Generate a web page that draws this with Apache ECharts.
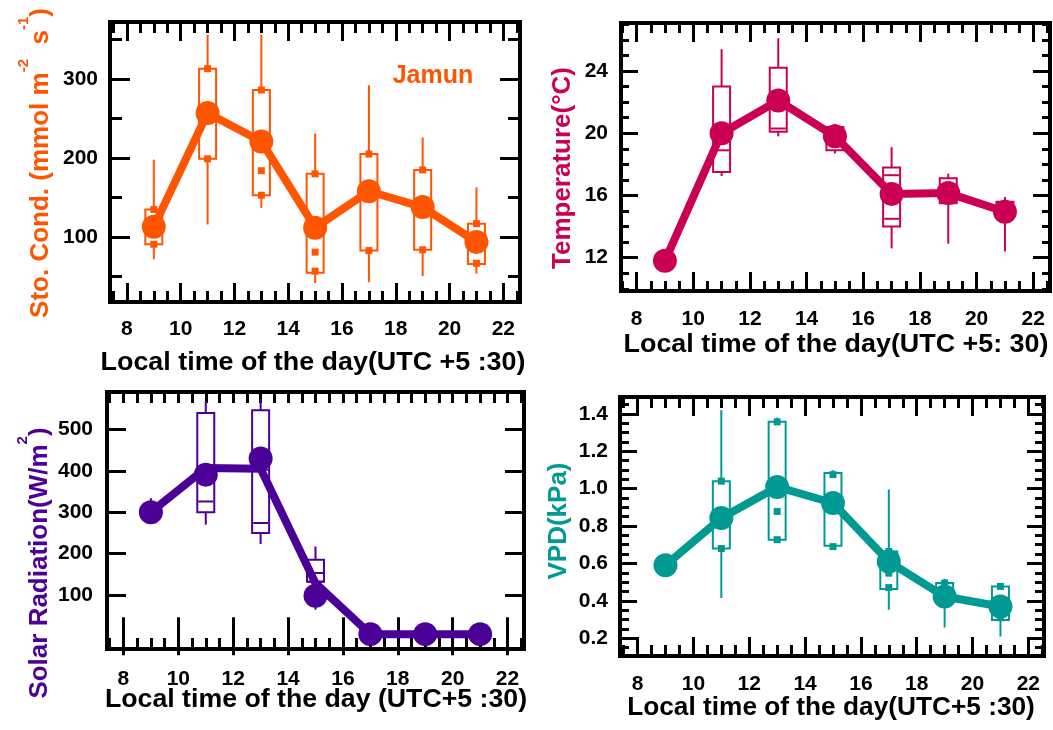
<!DOCTYPE html>
<html><head><meta charset="utf-8">
<script src="https://cdn.jsdelivr.net/npm/echarts@6/dist/echarts.min.js"></script>
<style>html,body{margin:0;padding:0;background:#fff}#c{width:1053px;height:730px}</style>
</head><body><div id="c"></div>
<script>
// ---------- shared axis data ----------
const hours = [9, 11, 13, 15, 17, 19, 21];
const xMajorTicks = [8, 10, 12, 14, 16, 18, 20, 22];
const xMinorTicks = [7.5, 8, 8.5, 9, 9.5, 10, 10.5, 11, 11.5, 12, 12.5, 13, 13.5, 14, 14.5, 15, 15.5, 16, 16.5, 17, 17.5, 18, 18.5, 19, 19.5, 20, 20.5, 21, 21.5, 22, 22.5];

// ---------- Panel 1: stomatal conductance ----------
const condMean = [113, 257, 221, 112, 158, 138, 94];
const condBoxHours = [9, 11, 13, 15, 17, 19, 21];
const condWhiskerLow = [72, 116, 137, 42, 43, 51, 54];
const condBoxLow = [91, 199, 153, 55, 83, 84, 66];
const condBoxHigh = [135, 313, 286, 180, 205, 185, 117];
const condWhiskerHigh = [198, 356, 356, 231, 292, 226, 163];
const condMarkHours = [9, 9, 11, 11, 13, 13, 13, 15, 15, 15, 17, 17, 19, 19, 21, 21];
const condMarkValues = [135, 91, 313, 199, 286, 184, 153, 180, 81, 57, 205, 83, 185, 84, 117, 67];
const condYTicks = [100, 200, 300];
const condYMinorTicks = [50, 100, 150, 200, 250, 300, 350];

// ---------- Panel 2: temperature ----------
const tempMean = [11.8, 20.0, 22.1, 19.8, 16.1, 16.15, 14.95];
const tempBoxHours = [11, 13, 15, 17, 19, 21];
const tempWhiskerLow = [17.25, 19.8, 18.7, 12.6, 12.9, 12.4];
const tempBoxLow = [17.5, 20.1, 18.9, 14.0, 15.5, 14.6];
const tempBoxHigh = [23.0, 24.2, 20.4, 17.8, 17.1, 15.6];
const tempWhiskerHigh = [25.4, 26.1, 20.6, 19.1, 17.4, 15.9];
const tempDashHours = [11, 13, 17, 17];
const tempDashValues = [18.9, 20.3, 17.3, 14.5];
const tempYTicks = [12, 16, 20, 24];
const tempYMinorTicks = [10, 11, 12, 13, 14, 15, 16, 17, 18, 19, 20, 21, 22, 23, 24, 25, 26, 27];

// ---------- Panel 3: solar radiation ----------
const solarMean = [300, 391, 430, 98, 5, 5, 5];
const solarMedian = [300, 407, 405, 128, 5, 5, 5];
const solarBoxHours = [9, 11, 13, 15];
const solarWhiskerLow = [285, 270, 223, 64];
const solarBoxLow = [295, 300, 250, 132];
const solarBoxHigh = [305, 540, 547, 185];
const solarWhiskerHigh = [334, 569, 574, 217];
const solarDashHours = [11, 11, 13, 13, 15, 15];
const solarDashValues = [403, 326, 403, 274, 153, 132];
const solarYTicks = [100, 200, 300, 400, 500];

// ---------- Panel 4: VPD ----------
const vpdMean = [0.59, 0.843, 1.009, 0.923, 0.61, 0.423, 0.37];
const vpdBoxHours = [11, 13, 15, 17, 19, 21];
const vpdWhiskerLow = [0.415, 0.727, 0.69, 0.352, 0.257, 0.209];
const vpdBoxLow = [0.68, 0.727, 0.695, 0.463, 0.388, 0.298];
const vpdBoxHigh = [1.04, 1.357, 1.084, 0.664, 0.495, 0.477];
const vpdWhiskerHigh = [1.42, 1.38, 1.098, 0.995, 0.518, 0.491];
const vpdMarkHours = [11, 11, 13, 13, 13, 15, 15, 17, 17, 17, 19, 21, 21];
const vpdMarkValues = [1.04, 0.68, 1.357, 0.878, 0.727, 1.075, 0.69, 0.664, 0.548, 0.471, 0.495, 0.477, 0.31];
const vpdYTicks = [0.2, 0.4, 0.6, 0.8, 1.0, 1.2, 1.4];
const vpdYMinorTicks = [0.15, 0.2, 0.25, 0.3, 0.35, 0.4, 0.45, 0.5, 0.55, 0.6, 0.65, 0.7, 0.75, 0.8, 0.85, 0.9, 0.95, 1.0, 1.05, 1.1, 1.15, 1.2, 1.25, 1.3, 1.35, 1.4, 1.45];

// ---------- styling ----------
const FONT = "'Liberation Sans', Arial, sans-serif";
const C1 = '#FF5500', C2 = '#CC0052', C3 = '#4B0097', C4 = '#009A93';

const grids = [
  {left: 110, top: 22, width: 410, height: 280},
  {left: 621, top: 23, width: 429, height: 268},
  {left: 107, top: 392, width: 417, height: 257},
  {left: 620, top: 397, width: 424, height: 259}
].map(g => Object.assign(g, {show: true, borderColor: '#000', borderWidth: 4, backgroundColor: 'transparent'}));

const xAxes = [], yAxes = [];
function tick(len, vals) {
  return {show: true, inside: true, length: len, customValues: vals, lineStyle: {color: '#000', width: 3}};
}
function addAxes(g, c) {
  const bx = {gridIndex: g, type: 'value', min: c.xMin, max: c.xMax, splitLine: {show: false}, axisLine: {show: false}};
  const by = {gridIndex: g, type: 'value', min: c.yMin, max: c.yMax, splitLine: {show: false}, axisLine: {show: false}};
  const xi = xAxes.length, yi = yAxes.length;
  xAxes.push(Object.assign({}, bx, {position: 'bottom', axisTick: tick(c.xLen, xMajorTicks),
    axisLabel: {customValues: xMajorTicks, margin: c.xMargin, fontSize: 21, fontWeight: 'bold', fontFamily: FONT, color: '#000'}}));
  xAxes.push(Object.assign({}, bx, {position: 'top', axisTick: tick(c.xLen, xMajorTicks), axisLabel: {show: false}}));
  xAxes.push(Object.assign({}, bx, {position: 'bottom', axisTick: tick(c.xMinLen, xMinorTicks), axisLabel: {show: false}}));
  xAxes.push(Object.assign({}, bx, {position: 'top', axisTick: tick(c.xMinLen, xMinorTicks), axisLabel: {show: false}}));
  yAxes.push(Object.assign({}, by, {position: 'left', axisTick: tick(c.yLen, c.yTicks),
    axisLabel: {customValues: c.yTicks, margin: c.yMargin, fontSize: 21, fontWeight: 'bold', fontFamily: FONT, color: '#000',
      formatter: c.fmt || (v => String(v))}}));
  yAxes.push(Object.assign({}, by, {position: 'right', axisTick: tick(c.yLen, c.yTicks), axisLabel: {show: false}}));
  if (c.yMinor) {
    yAxes.push(Object.assign({}, by, {position: 'left', axisTick: tick(c.yMinLen, c.yMinor), axisLabel: {show: false}}));
    yAxes.push(Object.assign({}, by, {position: 'right', axisTick: tick(c.yMinLen, c.yMinor), axisLabel: {show: false}}));
  }
  return {xi, yi};
}

const a1 = addAxes(0, {xMin: 7.37, xMax: 22.62, yMin: 18, yMax: 372, xLen: 19, xMinLen: 11, yLen: 20, yMinLen: 12,
  yTicks: condYTicks, yMinor: condYMinorTicks, xMargin: 17, yMargin: 12});
const a2 = addAxes(1, {xMin: 7.45, xMax: 22.59, yMin: 9.86, yMax: 27.08, xLen: 19, xMinLen: 10, yLen: 17, yMinLen: 8,
  yTicks: tempYTicks, yMinor: tempYMinorTicks, xMargin: 18, yMargin: 13});
const a3 = addAxes(2, {xMin: 7.4, xMax: 22.6, yMin: -31, yMax: 591, xLen: 19, xMinLen: 11, yLen: 19,
  yTicks: solarYTicks, xMargin: 20, yMargin: 14});
const a4 = addAxes(3, {xMin: 7.37, xMax: 22.56, yMin: 0.105, yMax: 1.49, xLen: 19, xMinLen: 11, yLen: 17, yMinLen: 9,
  yTicks: vpdYTicks, yMinor: vpdYMinorTicks, xMargin: 18, yMargin: 12, fmt: v => v.toFixed(1)});

function boxSeries(ax, color, bh, wl, bl, bhi, wh) {
  return {
    type: 'custom', xAxisIndex: ax.xi, yAxisIndex: ax.yi, z: 2,
    data: bh.map((h, i) => [h, wl[i], bl[i], bhi[i], wh[i]]),
    renderItem: function (params, api) {
      const x = api.value(0);
      const pWL = api.coord([x, api.value(1)]);
      const pBL = api.coord([x, api.value(2)]);
      const pBH = api.coord([x, api.value(3)]);
      const pWH = api.coord([x, api.value(4)]);
      const w = 17;
      const st = {stroke: color, lineWidth: 2, fill: null};
      return {type: 'group', children: [
        {type: 'rect', shape: {x: pBH[0] - w / 2, y: pBH[1], width: w, height: pBL[1] - pBH[1]}, style: st},
        {type: 'line', shape: {x1: pWH[0], y1: pWH[1], x2: pBH[0], y2: pBH[1]}, style: st},
        {type: 'line', shape: {x1: pBL[0], y1: pBL[1], x2: pWL[0], y2: pWL[1]}, style: st}
      ]};
    }
  };
}
function markSeries(ax, color, hs, vs, symbol, size) {
  return {type: 'scatter', xAxisIndex: ax.xi, yAxisIndex: ax.yi, z: 3, symbol: symbol, symbolSize: size,
    itemStyle: {color: color, opacity: 1}, data: hs.map((h, i) => [h, vs[i]])};
}
function meanSeries(ax, color, vals, showSym) {
  return {type: 'line', xAxisIndex: ax.xi, yAxisIndex: ax.yi, z: 4, symbol: 'circle', symbolSize: 24,
    showSymbol: showSym, lineStyle: {color: color, width: 8}, itemStyle: {color: color, opacity: 1},
    data: hours.map((h, i) => [h, vals[i]])};
}

const series = [
  boxSeries(a1, C1, condBoxHours, condWhiskerLow, condBoxLow, condBoxHigh, condWhiskerHigh),
  markSeries(a1, C1, condMarkHours, condMarkValues, 'rect', 7),
  meanSeries(a1, C1, condMean, true),

  boxSeries(a2, C2, tempBoxHours, tempWhiskerLow, tempBoxLow, tempBoxHigh, tempWhiskerHigh),
  markSeries(a2, C2, tempDashHours, tempDashValues, 'rect', [15, 2]),
  meanSeries(a2, C2, tempMean, true),

  boxSeries(a3, C3, solarBoxHours, solarWhiskerLow, solarBoxLow, solarBoxHigh, solarWhiskerHigh),
  markSeries(a3, C3, solarDashHours, solarDashValues, 'rect', [15, 2]),
  meanSeries(a3, C3, solarMedian, false),
  markSeries(a3, C3, hours, solarMean, 'circle', 24),

  boxSeries(a4, C4, vpdBoxHours, vpdWhiskerLow, vpdBoxLow, vpdBoxHigh, vpdWhiskerHigh),
  markSeries(a4, C4, vpdMarkHours, vpdMarkValues, 'rect', 7),
  meanSeries(a4, C4, vpdMean, true)
];

function tx(x, y, text, color, size, opts) {
  return Object.assign({type: 'text', x: x, y: y, z: 10, style: {
    text: text, fill: color, font: 'bold ' + size + 'px ' + FONT,
    align: 'center', verticalAlign: 'middle', textAlign: 'center', textVerticalAlign: 'middle'}}, opts || {});
}
function rich(color, size) {
  return {
    a: {fill: color, fontSize: size, fontWeight: 'bold', fontFamily: FONT, lineHeight: 38, verticalAlign: 'bottom'},
    s: {fill: color, fontSize: 15, fontWeight: 'bold', fontFamily: FONT, lineHeight: 15, verticalAlign: 'top'}
  };
}
const xTitle1 = 'Local time of the day(UTC +5 :30)';
const xTitle2 = 'Local time of the day(UTC +5: 30)';
const xTitle3 = 'Local time of the day (UTC+5 :30)';
const xTitle4 = 'Local time of the day(UTC+5 :30)';

const graphic = [
  tx(313, 363, xTitle1, '#000', 25, {scaleX: 1.075}),
  tx(836, 345, xTitle2, '#000', 25, {scaleX: 1.075}),
  tx(316, 700, xTitle3, '#000', 25, {scaleX: 1.068}),
  tx(831, 708, xTitle4, '#000', 25, {scaleX: 1.05}),
  tx(433, 76, 'Jamun', C1, 25),
  {type: 'text', x: 35, y: 163, rotation: Math.PI / 2, z: 10, style: {
    text: '{a|Sto. Cond. (mmol m}{s|-2}{a|  s}{s|-1}{a|)}', rich: rich(C1, 26),
    align: 'center', verticalAlign: 'middle', textAlign: 'center', textVerticalAlign: 'middle'}},
  tx(563, 168, 'Temperature(°C)', C2, 26, {rotation: Math.PI / 2}),
  {type: 'text', x: 34, y: 563, rotation: Math.PI / 2, z: 10, style: {
    text: '{a|Solar Radiation(W/m}{s|2}{a|)}', rich: rich(C3, 26),
    align: 'center', verticalAlign: 'middle', textAlign: 'center', textVerticalAlign: 'middle'}},
  tx(559, 521, 'VPD(kPa)', C4, 26, {rotation: Math.PI / 2})
];

const chart = echarts.init(document.getElementById('c'), null, {renderer: 'canvas'});
chart.setOption({
  animation: false,
  backgroundColor: '#fff',
  grid: grids,
  xAxis: xAxes,
  yAxis: yAxes,
  series: series,
  graphic: graphic
});
</script>
</body></html>
